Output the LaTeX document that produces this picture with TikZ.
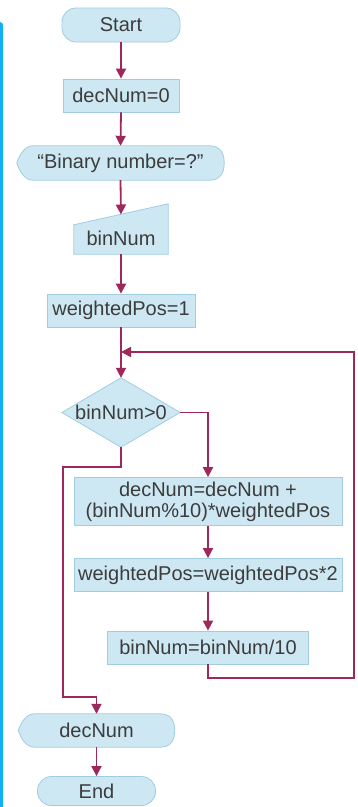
\documentclass[tikz,border=0pt]{standalone}
\usepackage{fontspec}
\setmainfont{Liberation Sans}
\usetikzlibrary{arrows.meta,backgrounds,calc}
\definecolor{boxfill}{RGB}{206,232,243}
\definecolor{boxline}{RGB}{160,205,226}
\definecolor{flowcol}{RGB}{158,40,92}
\definecolor{barcol}{RGB}{20,176,240}
\definecolor{txt}{RGB}{60,60,60}
\tikzset{
  base/.style={font=\fontsize{20}{21}\selectfont, text=txt, inner sep=0pt, align=center},
  procbox/.style={base, rectangle, draw=boxline, fill=boxfill, line width=0.8pt},
  termbox/.style={base, rectangle, rounded corners=14pt, draw=boxline, fill=boxfill, line width=0.8pt},
  plainbox/.style={base, rectangle},
  shapefill/.style={draw=boxline, fill=boxfill, line width=0.8pt},
  flow/.style={draw=flowcol, line width=1.8pt, -{Triangle[length=10pt,width=10pt]}}
}
\begin{document}
\begin{tikzpicture}[x=1pt,y=-1pt]
\useasboundingbox (0,0) rectangle (357,807);

% nodes
\node[termbox, minimum width=118, minimum height=34] (start) at (121,25) {Start};
\node[procbox, minimum width=116, minimum height=33] (dec0) at (121,95.5) {decNum=0};
\node[plainbox, minimum width=207, minimum height=34] (prompt) at (120.5,163) {“Binary number=?"};
\node[plainbox, minimum width=94, minimum height=32] (inp) at (121,238) {binNum};
\coordinate (inpin) at (121,214.5);
\node[procbox, minimum width=148, minimum height=33] (wp1) at (121,310.5) {weightedPos=1};
\coordinate (join) at (121,352);
\node[plainbox, minimum width=118, minimum height=69] (dia) at (121,412.5) {binNum>0};
\node[procbox, minimum width=268, minimum height=48] (box1) at (208,501.5) {decNum=decNum +\\(binNum\%10)*weightedPos};
\node[procbox, minimum width=268, minimum height=33] (box2) at (208,575) {weightedPos=weightedPos*2};
\node[procbox, minimum width=201, minimum height=33] (box3) at (208,647.5) {binNum=binNum/10};
\node[plainbox, minimum width=156, minimum height=33] (out) at (96.5,730.5) {decNum};
\node[termbox, minimum width=118, minimum height=29] (end) at (96.5,791) {End};

% custom shapes behind text
\begin{scope}[on background layer]
  \fill[white] (0,0) rectangle (357,807);
  % left bar
  \fill[barcol] (0,807) -- (0,22) .. controls (2,22) and (3.2,23.5) .. (3.2,26) -- (3.2,807) -- cycle;
  % display shapes
  \path[shapefill] ($(prompt.north west)+(16,0)$) -- ($(prompt.north east)+(-15,0)$)
     .. controls ($(prompt.north east)+(-4,0)$) and ($(prompt.east)+(0,-10)$) .. (prompt.east)
     .. controls ($(prompt.east)+(0,10)$) and ($(prompt.south east)+(-4,0)$) .. ($(prompt.south east)+(-15,0)$)
     -- ($(prompt.south west)+(16,0)$)
     .. controls ($(prompt.south west)+(7,0)$) and ($(prompt.west)+(2,6)$) .. (prompt.west)
     .. controls ($(prompt.west)+(2,-6)$) and ($(prompt.north west)+(7,0)$) .. ($(prompt.north west)+(16,0)$) -- cycle;
  \path[shapefill] ($(out.north west)+(16,0)$) -- ($(out.north east)+(-15,0)$)
     .. controls ($(out.north east)+(-4,0)$) and ($(out.east)+(0,-10)$) .. (out.east)
     .. controls ($(out.east)+(0,10)$) and ($(out.south east)+(-4,0)$) .. ($(out.south east)+(-15,0)$)
     -- ($(out.south west)+(16,0)$)
     .. controls ($(out.south west)+(7,0)$) and ($(out.west)+(2,6)$) .. (out.west)
     .. controls ($(out.west)+(2,-6)$) and ($(out.north west)+(7,0)$) .. ($(out.north west)+(16,0)$) -- cycle;
  % manual input
  \path[shapefill] (inp.south west) -- (inp.south east) -- ($(inp.north east)+(0,-18)$) -- ($(inp.north west)+(0,3)$) -- cycle;
  % diamond
  \path[shapefill] (dia.north) -- (dia.east) -- (dia.south) -- (dia.west) -- cycle;
\end{scope}

% connectors
\coordinate (lr) at (354,678);
\coordinate (ur) at (354,352);
\coordinate (n1) at (63,467);
\coordinate (n2) at (63,697);
\draw[flow] (start.south) -- (dec0.north);
\draw[flow] (dec0.south) -- (prompt.north);
\draw[flow] (prompt.south) -- (inpin);
\draw[flow] (inp.south) -- (wp1.north);
\draw[flow] (wp1.south) -- (dia.north);
\draw[flow] (dia.east) -| (box1.north);
\draw[flow] (box1.south) -- (box2.north);
\draw[flow] (box2.south) -- (box3.north);
\draw[flow] (box3.south) |- (lr) -- (ur) -- (join);
\draw[flow] (dia.south) |- (n1) -- (n2) -| (out.north);
\draw[flow] (out.south) -- (end.north);
\end{tikzpicture}
\end{document}
